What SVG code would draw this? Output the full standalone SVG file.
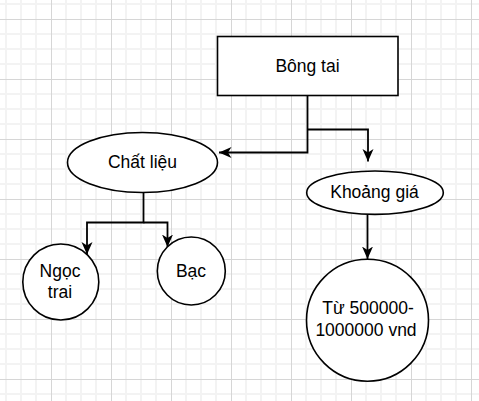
<svg xmlns="http://www.w3.org/2000/svg" width="479" height="401" viewBox="0 0 479 401">
<defs>
<pattern id="grid" patternUnits="userSpaceOnUse" x="51" y="19" width="60" height="60">
<rect x="14" y="0" width="2" height="60" fill="#f3f3f3"/>
<rect x="29" y="0" width="2" height="60" fill="#f3f3f3"/>
<rect x="44" y="0" width="2" height="60" fill="#f3f3f3"/>
<rect x="0" y="14" width="60" height="2" fill="#f3f3f3"/>
<rect x="0" y="29" width="60" height="2" fill="#f3f3f3"/>
<rect x="0" y="44" width="60" height="2" fill="#f3f3f3"/>
<rect x="0" y="0" width="1" height="60" fill="#d6d6d6"/>
<rect x="0" y="0" width="60" height="1" fill="#d6d6d6"/>
</pattern>
<marker id="arr" markerUnits="userSpaceOnUse" markerWidth="13" markerHeight="12" viewBox="0 0 13 12" refX="12.5" refY="6" orient="auto">
<path d="M0,0.5 L12.5,6 L0,11.5 L3.5,6 Z" fill="#000"/>
</marker>
</defs>
<style>
.shape{fill:#fff;stroke:#000;stroke-width:1.6}
.edge{fill:none;stroke:#000;stroke-width:1.8;marker-end:url(#arr)}
text{font-family:"Liberation Sans",Arial,sans-serif;font-size:17.5px;fill:#000;text-anchor:middle}
</style>
<rect width="479" height="401" fill="#fff"/>
<rect width="479" height="401" fill="url(#grid)"/>
<g id="connectors">
<path class="edge" d="M307.5,95 V152.5 H219"/>
<path class="edge" d="M307.5,129.5 H368 V161.5"/>
<path class="edge" d="M143.5,192 V222.5 H87 V254.5"/>
<path class="edge" d="M143.5,222.5 H167.5 V247"/>
<path class="edge" d="M367.5,214.5 V259"/>
</g>
<g id="bong-tai">
<rect class="shape" x="217.5" y="36.5" width="180.5" height="59"/>
<text x="307.5" y="72">Bông tai</text>
</g>
<g id="chat-lieu">
<ellipse class="shape" cx="142.5" cy="162.5" rx="75" ry="30"/>
<text x="142.5" y="168">Chất liệu</text>
</g>
<g id="khoang-gia">
<ellipse class="shape" cx="375" cy="192.7" rx="68.3" ry="21.7"/>
<text x="374.5" y="197.5">Khoảng giá</text>
</g>
<g id="ngoc-trai">
<circle class="shape" cx="60.8" cy="282" r="38"/>
<text x="60" y="277">Ngọc</text>
<text x="60" y="298">trai</text>
</g>
<g id="bac">
<circle class="shape" cx="191.3" cy="271" r="34"/>
<text x="191" y="277">Bạc</text>
</g>
<g id="tu">
<circle class="shape" cx="367.5" cy="320.3" r="61"/>
<text x="368" y="314">Từ 500000-</text>
<text x="366" y="336">1000000 vnd</text>
</g>
</svg>
